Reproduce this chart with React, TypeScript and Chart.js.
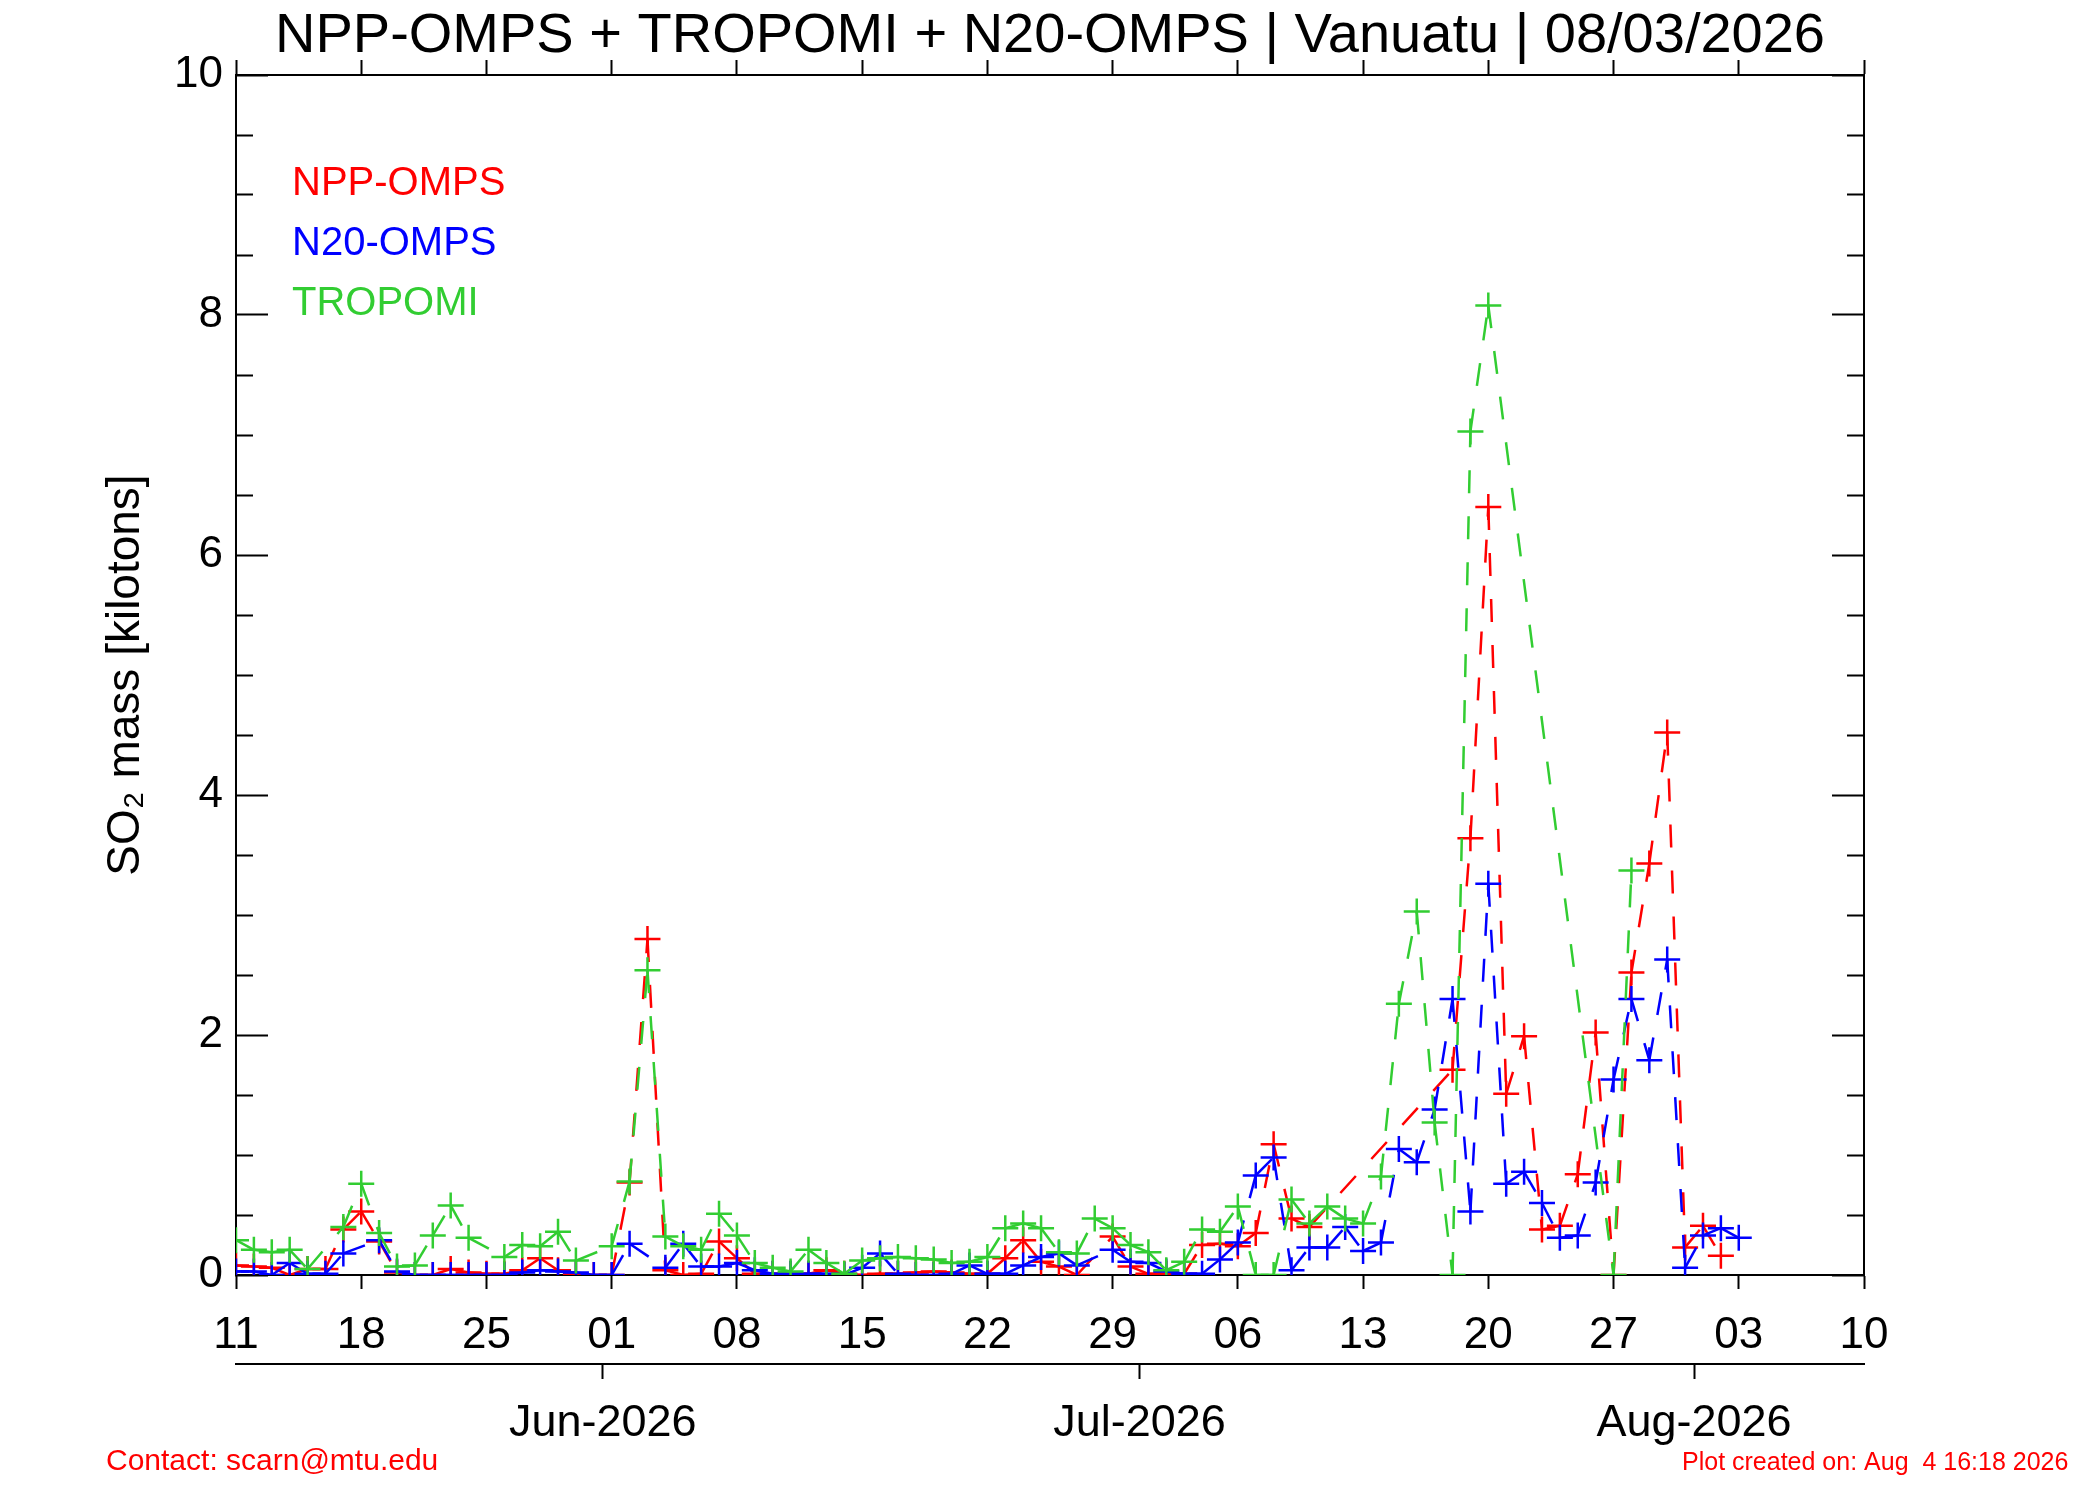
import React, { useEffect, useRef } from 'react';
import { Chart, registerables } from 'chart.js';

Chart.register(...registerables);

// ---------- text ----------
const chartTitle = 'NPP-OMPS + TROPOMI + N20-OMPS | Vanuatu | 08/03/2026';
const yAxisTitle = 'SO\u2082 mass [kilotons]';
const contactText = 'Contact: scarn@mtu.edu';
const createdText = 'Plot created on: Aug  4 16:18 2026';

// ---------- axes (x = days since 11 May 2026) ----------
const dayTickLabels = ['11', '18', '25', '01', '08', '15', '22', '29', '06', '13', '20', '27', '03', '10'];
const dayTickValues = [0, 7, 14, 21, 28, 35, 42, 49, 56, 63, 70, 77, 84, 91];
const monthTickDays = [20.5, 50.5, 81.5];
const monthTickLabels = ['Jun-2026', 'Jul-2026', 'Aug-2026'];
const yTickValues = [0, 0.5, 1, 1.5, 2, 2.5, 3, 3.5, 4, 4.5, 5, 5.5, 6, 6.5, 7, 7.5, 8, 8.5, 9, 9.5, 10];
const yMajorLabels = ['0', '2', '4', '6', '8', '10'];

// ---------- series ----------
const seriesNames = ['NPP-OMPS', 'N20-OMPS', 'TROPOMI'];
const seriesColors = ['#ff0000', '#0000ff', '#32cd32'];

const nppDays = [0, 1, 2, 3, 4, 5, 6, 7, 8, 9, 10, 11, 12, 13, 14, 15, 16, 17, 18, 19, 20, 21, 22, 23, 24, 25, 26, 27, 28, 29, 30, 31, 32, 33, 34, 35, 36, 37, 38, 39, 40, 41, 42, 43, 44, 45, 46, 47, 49, 50, 51, 52, 53, 54, 55, 56, 57, 58, 59, 60, 68, 69, 70, 71, 72, 73, 74, 75, 76, 77, 78, 79, 80, 81, 82, 83];
const nppValues = [0.08, 0.07, 0.06, 0.0, 0.05, 0.05, 0.38, 0.53, 0.28, 0.02, 0.0, 0.0, 0.05, 0.02, 0.01, 0.01, 0.04, 0.14, 0.04, 0.01, 0.0, 0.0, 0.77, 2.8, 0.04, 0.0, 0.01, 0.28, 0.14, 0.01, 0.01, 0.01, 0.01, 0.04, 0.01, 0.0, 0.01, 0.01, 0.02, 0.03, 0.02, 0.01, 0.01, 0.14, 0.29, 0.11, 0.07, 0.0, 0.32, 0.07, 0.01, 0.01, 0.01, 0.25, 0.26, 0.24, 0.35, 1.09, 0.47, 0.4, 1.71, 3.64, 6.4, 1.51, 1.99, 0.38, 0.41, 0.84, 2.02, 0.0, 2.52, 3.43, 4.52, 0.23, 0.41, 0.16];

const n20Days = [0, 1, 2, 3, 4, 5, 6, 8, 9, 10, 11, 12, 13, 14, 15, 16, 17, 18, 19, 20, 21, 22, 24, 25, 26, 27, 28, 29, 30, 31, 32, 33, 34, 35, 36, 37, 38, 39, 40, 41, 42, 43, 44, 45, 46, 47, 49, 50, 51, 52, 53, 54, 55, 56, 57, 58, 59, 60, 61, 62, 63, 64, 65, 66, 67, 68, 69, 70, 71, 72, 73, 74, 75, 76, 77, 78, 79, 80, 81, 82, 83, 84];
const n20Values = [0.03, 0.03, 0.0, 0.1, 0.01, 0.01, 0.18, 0.29, 0.03, 0.0, 0.0, 0.0, 0.0, 0.0, 0.0, 0.02, 0.04, 0.03, 0.02, 0.0, 0.0, 0.26, 0.06, 0.26, 0.07, 0.07, 0.1, 0.04, 0.01, 0.01, 0.01, 0.01, 0.0, 0.06, 0.18, 0.01, 0.0, 0.0, 0.01, 0.08, 0.01, 0.01, 0.08, 0.15, 0.18, 0.08, 0.21, 0.11, 0.1, 0.03, 0.01, 0.01, 0.13, 0.27, 0.83, 0.98, 0.04, 0.23, 0.23, 0.4, 0.2, 0.27, 1.05, 0.94, 1.38, 2.3, 0.53, 3.26, 0.76, 0.86, 0.6, 0.31, 0.33, 0.77, 1.63, 2.3, 1.79, 2.63, 0.06, 0.33, 0.39, 0.31];

const tropDays = [0, 1, 2, 3, 4, 6, 7, 8, 9, 10, 11, 12, 13, 15, 16, 17, 18, 19, 21, 22, 23, 24, 25, 26, 27, 28, 29, 30, 31, 32, 33, 34, 35, 36, 37, 38, 39, 40, 41, 42, 43, 44, 45, 46, 47, 48, 49, 50, 51, 52, 53, 54, 55, 56, 57, 58, 59, 60, 61, 62, 63, 64, 65, 66, 67, 68, 69, 70, 77, 78];
const tropValues = [0.29, 0.21, 0.19, 0.21, 0.05, 0.4, 0.76, 0.35, 0.07, 0.08, 0.33, 0.58, 0.31, 0.15, 0.25, 0.24, 0.36, 0.12, 0.24, 0.78, 2.54, 0.32, 0.24, 0.21, 0.51, 0.33, 0.1, 0.06, 0.03, 0.21, 0.1, 0.01, 0.12, 0.14, 0.15, 0.14, 0.13, 0.1, 0.11, 0.15, 0.39, 0.43, 0.39, 0.19, 0.18, 0.47, 0.39, 0.25, 0.19, 0.04, 0.11, 0.38, 0.36, 0.57, 0.0, 0.0, 0.63, 0.43, 0.57, 0.47, 0.43, 0.82, 2.26, 3.03, 1.27, 0.0, 7.03, 8.08, 0.0, 3.37];

const FONT = '"Liberation Sans", Arial, Helvetica, sans-serif';

const makePoints = (days: number[], vals: number[]) => days.map((d, i) => ({ x: d, y: vals[i] }));
const isMajorY = (v: number) => yMajorLabels.includes(String(v));

const textPlugin = {
  id: 'extraText',
  afterDraw(chart: any) {
    const ctx = chart.ctx;
    const area = chart.chartArea;
    ctx.save();
    ctx.textAlign = 'left';
    ctx.textBaseline = 'alphabetic';
    ctx.font = `40px ${FONT}`;
    seriesNames.forEach((name, i) => {
      ctx.fillStyle = seriesColors[i];
      ctx.fillText(name, area.left + 56, area.top + 120 + i * 60);
    });
    ctx.fillStyle = '#ff0000';
    ctx.font = `30px ${FONT}`;
    ctx.fillText(contactText, 106, 1470);
    ctx.font = `25px ${FONT}`;
    ctx.fillText(createdText, 1682, 1470);
    ctx.restore();
  },
};

export default function App() {
  const canvasRef = useRef<HTMLCanvasElement | null>(null);

  useEffect(() => {
    if (!canvasRef.current) return;
    Chart.defaults.font.family = FONT;
    Chart.defaults.color = '#000';

    const common = {
      borderWidth: 2.5,
      borderDash: [23, 23],
      pointStyle: 'cross',
      pointRadius: 13,
      pointHoverRadius: 13,
      pointBorderWidth: 2.5,
      tension: 0,
      fill: false,
      clip: 0,
      xAxisID: 'x',
      yAxisID: 'y',
      segment: {
        borderDash: () => [23, 23],
        borderDashOffset: (c: any) => (c.p0DataIndex % 2) * 0.01,
      },
    };

    const seriesData = [
      makePoints(nppDays, nppValues),
      makePoints(n20Days, n20Values),
      makePoints(tropDays, tropValues),
    ];

    const datasets = seriesNames.map((name, i) => ({
      ...common,
      label: name,
      data: seriesData[i],
      borderColor: seriesColors[i],
      backgroundColor: seriesColors[i],
      pointBorderColor: seriesColors[i],
      pointBackgroundColor: seriesColors[i],
      order: 2 - i,
    }));

    const tickFont = { size: 44 };
    const noGrid = (len: number, dash?: (v: number) => number[]) => ({
      drawOnChartArea: false,
      drawTicks: true,
      tickLength: len,
      tickWidth: 2,
      tickColor: '#000',
      ...(dash ? { tickBorderDash: (c: any) => dash(c.tick ? c.tick.value : 0) } : {}),
    });
    const border = { display: true, color: '#000', width: 2 };

    const chart = new Chart(canvasRef.current, {
      type: 'line',
      data: { datasets: datasets as any },
      plugins: [textPlugin],
      options: {
        responsive: false,
        devicePixelRatio: 1,
        animation: false,
        events: [],
        layout: { padding: 0 },
        plugins: {
          legend: { display: false },
          tooltip: { enabled: false },
          title: {
            display: true,
            text: chartTitle,
            color: '#000',
            font: { size: 56, weight: 'normal', lineHeight: 1 },
            padding: { top: 9, bottom: 0 },
          },
        },
        scales: {
          x: {
            type: 'linear',
            position: 'bottom',
            weight: 0,
            min: 0,
            max: 91,
            afterBuildTicks: (s: any) => {
              s.ticks = dayTickValues.map((v) => ({ value: v }));
            },
            ticks: {
              autoSkip: false,
              maxRotation: 0,
              padding: 20,
              font: tickFont,
              color: '#000',
              callback: (v: any) => dayTickLabels[dayTickValues.indexOf(Number(v))] ?? '',
            },
            grid: noGrid(14),
            border,
            afterFit: (s: any) => {
              s.height = 89;
            },
          },
          xMonth: {
            type: 'linear',
            position: 'bottom',
            weight: 1,
            min: 0,
            max: 91,
            afterBuildTicks: (s: any) => {
              s.ticks = monthTickDays.map((v) => ({ value: v }));
            },
            ticks: {
              autoSkip: false,
              maxRotation: 0,
              padding: 18,
              font: { size: 45 },
              color: '#000',
              callback: (v: any) => monthTickLabels[monthTickDays.indexOf(Number(v))] ?? '',
            },
            grid: noGrid(15),
            border,
            afterFit: (s: any) => {
              s.height = 136;
            },
          },
          xTop: {
            type: 'linear',
            position: 'top',
            min: 0,
            max: 91,
            afterBuildTicks: (s: any) => {
              s.ticks = dayTickValues.map((v) => ({ value: v }));
            },
            ticks: { autoSkip: false, maxRotation: 0, callback: () => '' },
            grid: noGrid(15),
            border,
            afterFit: (s: any) => {
              s.height = 10;
            },
          },
          y: {
            type: 'linear',
            position: 'left',
            min: 0,
            max: 10,
            afterBuildTicks: (s: any) => {
              s.ticks = yTickValues.map((v) => ({ value: v }));
            },
            ticks: {
              autoSkip: false,
              padding: 45,
              font: tickFont,
              color: '#000',
              callback: (v: any) => (isMajorY(Number(v)) ? String(v) : ''),
            },
            grid: noGrid(-32, (v) => (isMajorY(v) ? [] : [0, 15, 18, 200])),
            border,
            title: {
              display: true,
              text: yAxisTitle,
              color: '#000',
              font: { size: 46 },
              padding: { top: 99, bottom: 0 },
            },
            afterFit: (s: any) => {
              s.width = 236;
            },
          },
          y2: {
            type: 'linear',
            position: 'right',
            min: 0,
            max: 10,
            afterBuildTicks: (s: any) => {
              s.ticks = yTickValues.map((v) => ({ value: v }));
            },
            ticks: { autoSkip: false, callback: () => '' },
            grid: noGrid(-32, (v) => (isMajorY(v) ? [] : [18, 200])),
            border,
            afterFit: (s: any) => {
              s.width = 236;
            },
          },
        },
      } as any,
    });

    return () => chart.destroy();
  }, []);

  return (
    <canvas
      ref={canvasRef}
      width={2100}
      height={1500}
      style={{ position: 'absolute', left: 0, top: 0, width: 2100, height: 1500, background: '#fff' }}
    />
  );
}
